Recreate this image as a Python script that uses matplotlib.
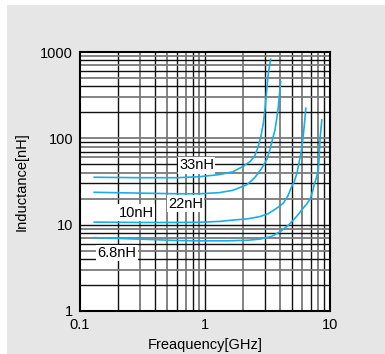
import matplotlib.pyplot as plt
import matplotlib.patches as patches
import numpy as np

plt.rcParams['font.family'] = ['Liberation Sans', 'DejaVu Sans']

# readings from the chart (frequency in GHz, inductance in nH)
freq_33 = [0.13, 0.3, 0.6, 0.91, 1.3, 1.67, 2.0, 2.3, 2.5, 2.65, 2.8, 2.93, 3.03, 3.12, 3.21, 3.35]
ind_33 = [35.4, 35.0, 35.0, 36.0, 38.0, 41.0, 47.0, 54.0, 63.0, 78.0, 105.0, 150.0, 230.0, 364.0, 568.0, 826.0]

freq_22 = [0.13, 0.3, 0.6, 0.91, 1.3, 1.67, 2.16, 2.5, 2.75, 2.95, 3.12, 3.3, 3.45, 3.63, 3.75, 3.86, 3.95, 4.03]
ind_22 = [23.7, 23.2, 22.8, 22.8, 23.5, 25.0, 29.0, 35.0, 42.0, 49.0, 57.0, 73.0, 95.0, 125.0, 170.0, 233.0, 330.0, 454.0]

freq_10 = [0.13, 0.3, 0.6, 0.91, 1.3, 1.67, 2.2, 2.75, 3.2, 3.7, 4.23, 4.6, 4.94, 5.2, 5.45, 5.65, 5.91, 6.1, 6.25, 6.41]
ind_10 = [10.7, 10.6, 10.6, 10.66, 10.9, 11.3, 11.7, 12.4, 13.4, 15.3, 17.7, 21.5, 27.6, 32.0, 40.0, 52.0, 73.0, 105.0, 150.0, 223.0]

freq_68 = [0.13, 0.3, 0.6, 0.91, 1.5, 2.2, 2.75, 3.4, 4.0, 4.7, 5.39, 6.1, 6.6, 7.0, 7.3, 7.52, 7.83, 8.07, 8.2, 8.32, 8.45, 8.6]
ind_68 = [7.07, 6.8, 6.55, 6.5, 6.5, 6.6, 6.8, 7.3, 8.3, 10.0, 12.4, 15.5, 17.8, 20.5, 25.0, 30.0, 36.0, 43.0, 62.0, 96.0, 125.0, 163.0]

series = [(freq_33, ind_33), (freq_22, ind_22), (freq_10, ind_10), (freq_68, ind_68)]

labels = ['33nH', '22nH', '10nH', '6.8nH']
label_x = [0.855, 0.698, 0.283, 0.198]
label_y = [49, 17.4, 13.7, 4.7]

fig = plt.figure(figsize=(3.85, 3.54), dpi=100, facecolor='white')
fig.patches.append(patches.Rectangle((7 / 385, 0), 1, 349 / 354, transform=fig.transFigure,
                                     facecolor='#e6e6e6', edgecolor='none', zorder=-10))

ax = fig.add_axes([80 / 385, 43 / 354, 250 / 385, 259 / 354])
ax.set_facecolor('white')
ax.set_xscale('log')
ax.set_yscale('log')
ax.set_xlim(0.1, 10)
ax.set_ylim(1, 1000)

# grid, mix of black and grey lines like the scan
xs = [m * 10.0 ** e for e in (-1, 0) for m in range(1, 10)][1:]
ys = [m * 10.0 ** e for e in (0, 1, 2) for m in range(1, 10)][1:]
for i, v in enumerate(xs):
    c = '#111111' if i % 2 == 0 else '#7a7a7a'
    ax.axvline(v, color=c, lw=1.3 if i % 2 else 1.0, zorder=1)
for i, v in enumerate(ys):
    c = '#111111' if i % 2 == 0 else '#7a7a7a'
    ax.axhline(v, color=c, lw=1.3 if i % 2 else 1.0, zorder=1)

for f, L in series:
    ax.plot(f, L, color='#19afe6', lw=1.2, zorder=3, solid_joinstyle='round')

for t, x, y in zip(labels, label_x, label_y):
    ax.text(x, y, t, fontsize=10.5, ha='center', va='center', zorder=4,
            bbox=dict(facecolor='white', edgecolor='none', pad=1.0))

ax.set_xticks([0.1, 1, 10])
ax.set_xticklabels(['0.1', '1', '10'])
ax.set_yticks([1, 10, 100, 1000])
ax.set_yticklabels(['1', '10', '100', '1000'])
ax.minorticks_off()
ax.tick_params(length=0, labelsize=10.5, pad=5)
for s in ax.spines.values():
    s.set_linewidth(1.5)
    s.set_color('black')
    s.set_zorder(5)

ax.set_xlabel('Freaquency[GHz]', fontsize=10.5, labelpad=4)
ax.set_ylabel('Inductance[nH]', fontsize=10.5, labelpad=8)

fig.savefig('out.png', dpi=100)
